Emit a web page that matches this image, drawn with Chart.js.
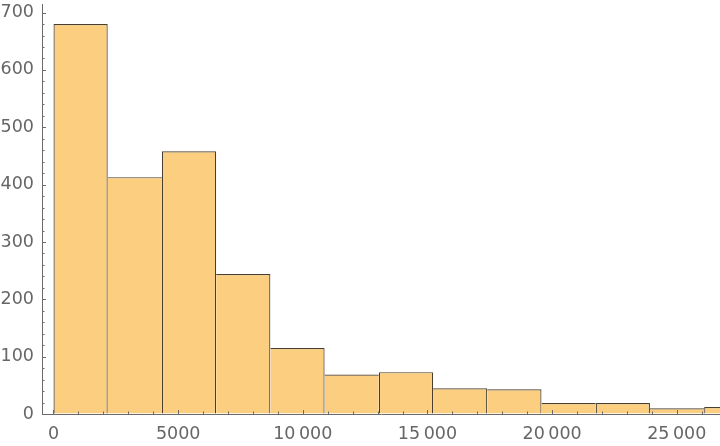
<!DOCTYPE html>
<html>
<head>
<meta charset="utf-8">
<script src="https://cdn.jsdelivr.net/npm/chart.js@4.4.1/dist/chart.umd.min.js"></script>
<style>
	html, body { margin: 0; padding: 0; background: #fff; }
	#mycanvas { display: block; }
</style>
</head>
<body>
<canvas id="mycanvas" width="720" height="446"></canvas>
<script>
// histogram bins (edges) and counts
var binEdges = [0, 2175, 4350, 6525, 8700, 10875, 13050, 15225, 17400, 19575, 21750, 23925, 26100, 28275];
var counts = [680, 413, 458, 244, 115, 69, 73, 45, 43, 19, 19, 10, 12];

var xTickValues = [0, 5000, 10000, 15000, 20000, 25000];
var xTickLabels = ["0", "5000", "10\u2009000", "15\u2009000", "20\u2009000", "25\u2009000"];
var yTickValues = [0, 100, 200, 300, 400, 500, 600, 700];
var yTickLabels = ["0", "100", "200", "300", "400", "500", "600", "700"];

var barFill = "rgb(251, 207, 127)";
var barEdge = "#4a3e30";
var axisColor = "#6b6b6b";

var points = [];
for (var i = 0; i < counts.length; i++) {
	points.push({ x: (binEdges[i] + binEdges[i + 1]) / 2, y: counts[i] });
}

// one line between neighbouring bars: the taller bar draws it
function edgeWidths(context) {
	var i = context.dataIndex;
	var prev = i > 0 ? counts[i - 1] : -1;
	var next = i < counts.length - 1 ? counts[i + 1] : -1;
	return {
		top: 1.2,
		left: counts[i] >= prev ? 1.2 : 0,
		right: counts[i] > next ? 1.2 : 0,
		bottom: 0
	};
}

// small inward tick marks, like the original axes
var tickMarks = {
	id: "tickMarks",
	afterDraw: function(chart) {
		var ctx = chart.ctx;
		var xs = chart.scales.x;
		var ys = chart.scales.y;
		var base = ys.getPixelForValue(0);
		var left = xs.left;
		ctx.save();
		ctx.strokeStyle = axisColor;
		ctx.lineWidth = 1;
		ctx.beginPath();
		for (var v = 0; v <= xs.max; v += 1000) {
			var px = Math.round(xs.getPixelForValue(v)) + 0.5;
			var len = v % 5000 === 0 ? 4 : 2.5;
			ctx.moveTo(px, base);
			ctx.lineTo(px, base - len);
		}
		for (var w = 0; w <= ys.max; w += 20) {
			var py = Math.round(ys.getPixelForValue(w)) + 0.5;
			var ln = w % 100 === 0 ? 4 : 2.5;
			ctx.moveTo(left, py);
			ctx.lineTo(left + ln, py);
		}
		ctx.stroke();
		ctx.restore();
	}
};

var tickFont = { family: "'DejaVu Sans', sans-serif", size: 17.5 };

var ctx = document.getElementById("mycanvas");

var histogram = new Chart(ctx, {
	type: "bar",
	data: {
		datasets: [
			{
				label: "Count",
				data: points,
				backgroundColor: barFill,
				borderColor: barEdge,
				borderWidth: edgeWidths,
				borderSkipped: false,
				inflateAmount: 0,
				barPercentage: 1,
				categoryPercentage: 1
			}
		]
	},
	options: {
		responsive: false,
		animation: false,
		devicePixelRatio: 1,
		layout: { padding: { top: 4, right: 0, left: 0, bottom: 0 } },
		plugins: {
			legend: { display: false },
			tooltip: { enabled: false }
		},
		scales: {
			x: {
				type: "linear",
				offset: false,
				min: -461,
				max: 26735,
				grid: { display: true, drawOnChartArea: false, drawTicks: false, offset: false },
				border: { display: true, color: axisColor, width: 1 },
				afterBuildTicks: function(scale) {
					scale.ticks = xTickValues.map(function(v) { return { value: v }; });
				},
				afterFit: function(scale) {
					scale.height = 32;
					scale.paddingLeft = 0;
					scale.paddingRight = 0;
				},
				ticks: {
					color: "#666",
					font: tickFont,
					padding: 10,
					maxRotation: 0,
					autoSkip: false,
					callback: function(value) {
						var k = xTickValues.indexOf(value);
						return k >= 0 ? xTickLabels[k] : "";
					}
				}
			},
			y: {
				min: 0,
				max: 715,
				grid: { display: true, drawOnChartArea: false, drawTicks: false },
				border: { display: true, color: axisColor, width: 1 },
				afterBuildTicks: function(scale) {
					scale.ticks = yTickValues.map(function(v) { return { value: v }; });
				},
				afterFit: function(scale) {
					scale.width = 42;
					scale.paddingTop = 0;
					scale.paddingBottom = 0;
				},
				ticks: {
					color: "#666",
					font: tickFont,
					padding: 8,
					autoSkip: false,
					callback: function(value) {
						var k = yTickValues.indexOf(value);
						return k >= 0 ? yTickLabels[k] : "";
					}
				}
			}
		}
	},
	plugins: [tickMarks]
});
</script>
</body>
</html>
